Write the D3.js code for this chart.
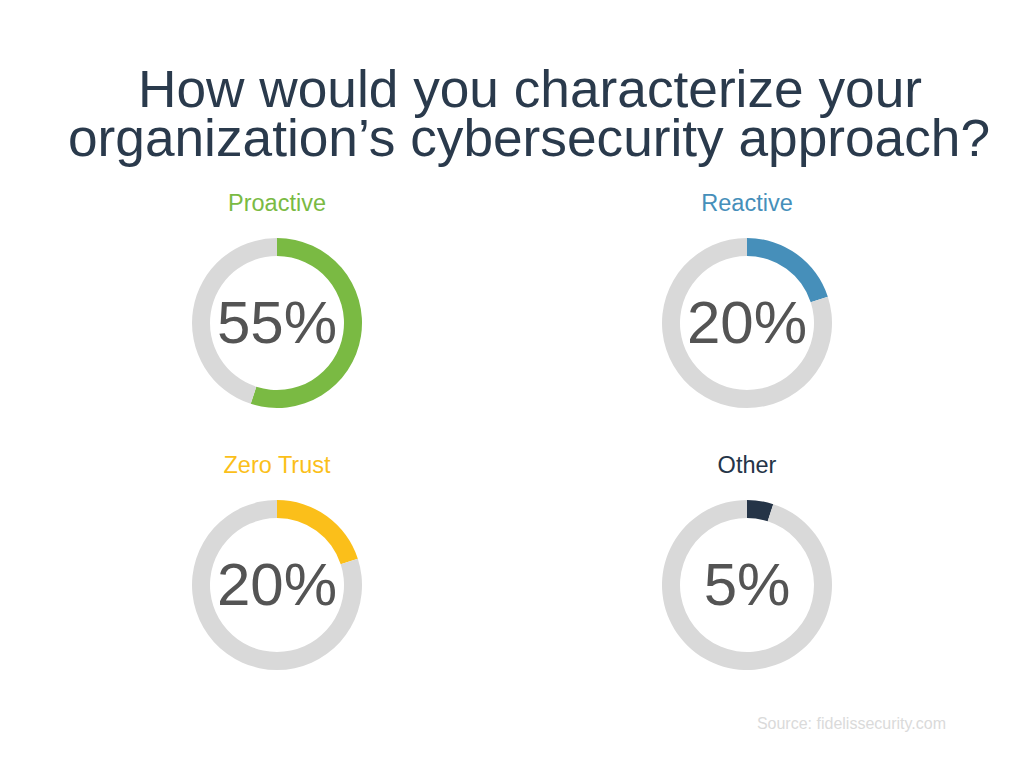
<!DOCTYPE html>
<html>
<head>
<meta charset="utf-8">
<script src="https://cdn.jsdelivr.net/npm/d3@7"></script>
<style>
  body { margin: 0; background: #fff; }
  text { font-family: "Liberation Sans", Arial, sans-serif; }
</style>
</head>
<body>
<svg width="1024" height="768"></svg>
<script>
const categories = ["Proactive", "Reactive", "Zero Trust", "Other"];
const values = [55, 20, 20, 5];
const colors = ["#7aba43", "#468fba", "#fbbf1a", "#253447"];
const titleLines = ["How would you characterize your", "organization\u2019s cybersecurity approach?"];
const source = "Source: fidelissecurity.com";

const svg = d3.select("svg");

// title, squeezed like the original narrow font
const titleBox = [{x0: 138, x1: 922, y: 107}, {x0: 68, x1: 990, y: 156}];
svg.selectAll(".title")
    .data(titleLines)
    .enter().append("text")
    .attr("class", "title")
    .attr("x", (d, i) => titleBox[i].x0)
    .attr("y", (d, i) => titleBox[i].y)
    .attr("textLength", (d, i) => titleBox[i].x1 - titleBox[i].x0)
    .attr("lengthAdjust", "spacingAndGlyphs")
    .style("font-size", "51px")
    .style("fill", "#2a3a4c")
    .text(d => d);

// 2x2 grid of donuts
const col = d3.scalePoint().domain([0, 1]).range([277, 747]);
const row = d3.scalePoint().domain([0, 1]).range([323, 585]);

const pie = d3.pie().sort(null).value(d => d);
const arc = d3.arc().innerRadius(67).outerRadius(85);

const cells = svg.selectAll(".cell")
    .data(categories)
    .enter().append("g")
    .attr("class", "cell")
    .attr("transform", (d, i) => `translate(${col(i % 2)},${row(Math.floor(i / 2))})`);

cells.append("text")
    .attr("y", -112)
    .attr("text-anchor", "middle")
    .style("font-size", "23.5px")
    .style("fill", (d, i) => colors[i])
    .text(d => d);

cells.selectAll("path")
    .data((d, i) => pie([values[i], 100 - values[i]]).map(p => ({...p, color: colors[i]})))
    .enter().append("path")
    .attr("d", arc)
    .attr("fill", (d, j) => j == 0 ? d.color : "#d9d9d9");

cells.append("text")
    .attr("y", 20)
    .attr("text-anchor", "middle")
    .style("font-size", "60px")
    .style("fill", "#545454")
    .text((d, i) => `${values[i]}%`);

svg.append("text")
    .attr("x", 946)
    .attr("y", 729)
    .attr("text-anchor", "end")
    .style("font-size", "16px")
    .style("fill", "#dadada")
    .text(source);
</script>
</body>
</html>
